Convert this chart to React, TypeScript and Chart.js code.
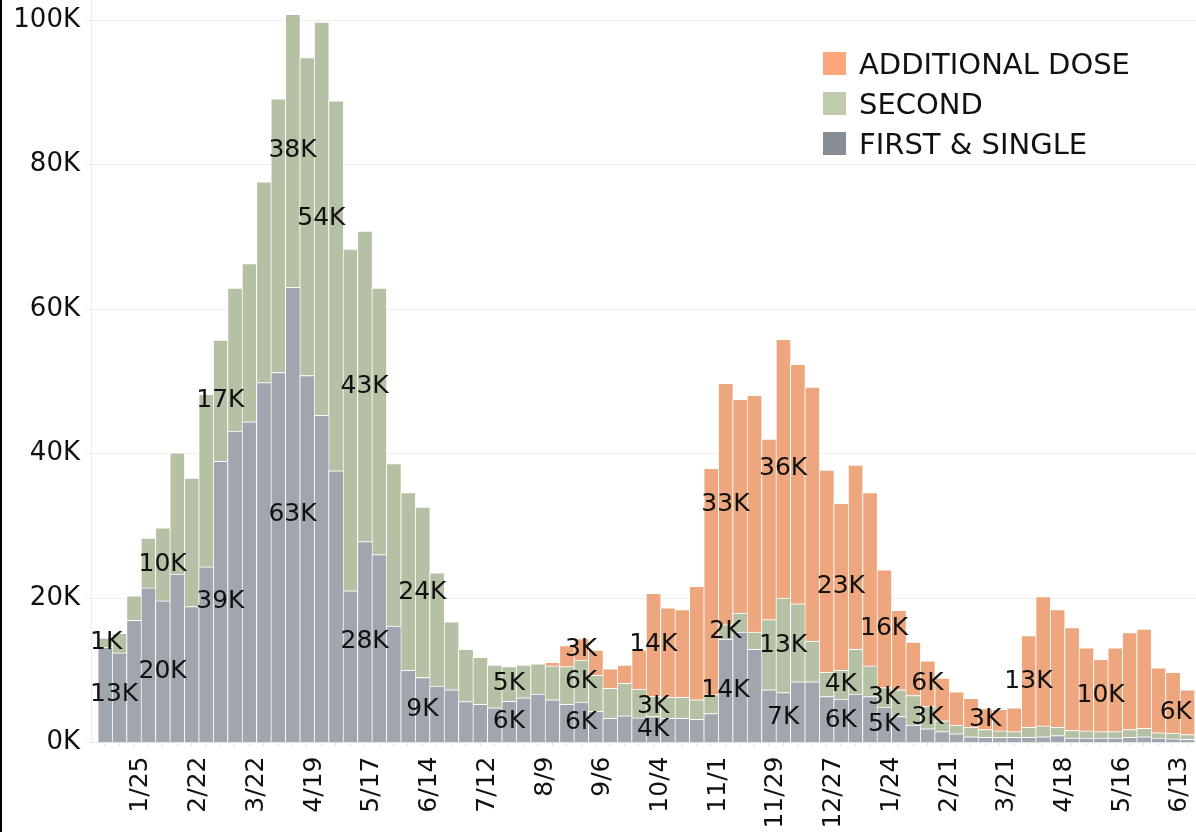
import React, { useEffect, useRef } from 'react';
import { Chart, registerables } from 'chart.js';

Chart.register(...registerables);

const FONT = "'DejaVu Sans', sans-serif";

// Weekly doses, week of 1/4/2021 (index 0) through week of 6/13/2022 (index 75)
const firstSingle = [
  13200, 12400, 16900, 21400, 19600, 23300, 18800, 24300, 38900, 43100,
  44400, 49800, 51200, 63000, 50800, 45300, 37600, 21000, 27800, 26000,
  16100, 10000, 9000, 7800, 7300, 5650, 5300, 4800, 5700, 6200,
  6700, 5900, 5300, 5600, 4300, 3350, 3700, 3400, 3600, 3350,
  3350, 3200, 4000, 14300, 15300, 12900, 7300, 6900, 8400, 8400,
  6350, 6000, 6700, 6350, 4900, 3600, 2400, 1900, 1500, 1200,
  800, 700, 700, 700, 700, 800, 950, 600, 600, 600,
  600, 700, 800, 600, 500, 450,
];

const second = [
  1300, 2700, 3400, 6900, 10100, 16800, 17800, 23900, 16800, 19800,
  21900, 27800, 37900, 37800, 44000, 54400, 51200, 47300, 43000, 36900,
  22500, 24600, 23600, 15700, 9400, 7250, 6500, 5900, 4800, 4500,
  4200, 4700, 5200, 5800, 5000, 4150, 4500, 4000, 2800, 2950,
  2900, 2700, 2600, 2000, 2600, 2400, 9700, 13100, 10800, 5600,
  3350, 4000, 6200, 4250, 2700, 3700, 4100, 3100, 1500, 1200,
  1300, 1100, 900, 800, 1400, 1500, 1150, 1100, 1000, 900,
  900, 1100, 1150, 750, 800, 650,
];

const additional = [
  0, 0, 0, 0, 0, 0, 0, 0, 0, 0,
  0, 0, 0, 0, 0, 0, 0, 0, 0, 0,
  0, 0, 0, 0, 0, 0, 0, 0, 0, 0,
  0, 500, 2900, 3000, 3500, 2700, 2500, 5400, 14250, 12350,
  12150, 15700, 31350, 33400, 29600, 32750, 25000, 35800, 33150, 35200,
  28000, 23100, 25500, 24000, 16300, 11000, 7400, 6300, 5900, 4600,
  4000, 2900, 3000, 3300, 12700, 17900, 16300, 14200, 11500, 10000,
  11600, 13400, 13750, 9000, 8400, 6200,
];

// x tick labels: every 4th week boundary, starting at boundary 3
const tickLabels = [
  '1/25', '2/22', '3/22', '4/19', '5/17', '6/14', '7/12', '8/9', '9/6', '10/4',
  '11/1', '11/29', '12/27', '1/24', '2/21', '3/21', '4/18', '5/16', '6/13',
];
const FIRST_TICK = 3;
const TICK_EVERY = 4;

const yTickValues = [0, 20000, 40000, 60000, 80000, 100000];
const Y_MAX = 102770;

// weeks whose segment carries a value label
const firstLabelWeeks = [0, 4, 8, 13, 18, 22, 28, 33, 38, 43, 47, 51, 54];
const secondLabelWeeks = [0, 4, 8, 13, 15, 18, 22, 28, 33, 38, 43, 47, 51, 54, 57];
const additionalLabelWeeks = [33, 38, 43, 47, 51, 54, 57, 61, 64, 69, 75];

const seriesNames = ['FIRST & SINGLE', 'SECOND', 'ADDITIONAL DOSE'];
const seriesValues = [firstSingle, second, additional];
const labelWeeks = [firstLabelWeeks, secondLabelWeeks, additionalLabelWeeks];
const barColors = ['#9fa6ad', '#b4c1a4', '#eda67d'];
const legendColors = ['#878d94', '#bfcbad', '#fda77a'];

const W = 1196;
const H = 832;

export default function App() {
  const canvasRef = useRef<HTMLCanvasElement>(null);

  useEffect(() => {
    const canvas = canvasRef.current;
    if (!canvas) return;

    const labelPlugin = {
      id: 'segmentLabels',
      afterDatasetsDraw(chart: any) {
        const ctx = chart.ctx as CanvasRenderingContext2D;
        const area = chart.chartArea;
        ctx.save();
        ctx.font = `25px ${FONT}`;
        ctx.fillStyle = '#111111';
        ctx.textAlign = 'center';
        ctx.textBaseline = 'middle';
        labelWeeks.forEach((weeks, d) => {
          const meta = chart.getDatasetMeta(d);
          const values = seriesValues[d];
          weeks.forEach((i) => {
            const el = meta.data[i] as any;
            if (!el) return;
            const text = Math.round(values[i] / 1000) + 'K';
            const w = ctx.measureText(text).width;
            let x = el.x;
            x = Math.min(x, area.right - 4 - w / 2);
            x = Math.max(x, area.left - 1 + w / 2);
            const y = (el.y + el.base) / 2;
            ctx.fillText(text, x, y);
          });
        });
        ctx.restore();
      },
    };

    const chart = new Chart(canvas, {
      type: 'bar',
      data: {
        datasets: seriesValues.map((vals, d) => ({
          label: seriesNames[d],
          data: vals.map((v, i) => ({ x: i + 0.5, y: v })),
          backgroundColor: barColors[d],
          borderColor: '#ffffff',
          borderWidth: { top: 1, left: 1, right: 0, bottom: 0 },
          borderSkipped: false,
          barPercentage: 1,
          categoryPercentage: 1,
        })),
      },
      options: {
        responsive: false,
        animation: false,
        devicePixelRatio: 1,
        events: [],
        layout: { padding: 0 },
        plugins: {
          legend: { display: false },
          tooltip: { enabled: false },
        },
        scales: {
          x: {
            type: 'linear',
            stacked: true,
            min: -0.464,
            max: 76.11,
            offset: false,
            afterBuildTicks: (scale: any) => {
              scale.ticks = Array.from({ length: 77 }, (_, k) => ({ value: k }));
            },
            afterFit: (scale: any) => {
              scale.height = 89.5;
              scale.paddingLeft = 0;
              scale.paddingRight = 0;
            },
            grid: {
              drawOnChartArea: false,
              drawTicks: true,
              tickLength: 4,
              color: '#e2e2e2',
            },
            border: { display: true, color: '#e4e4e4' },
            ticks: {
              autoSkip: false,
              maxRotation: 90,
              minRotation: 90,
              padding: 10,
              color: '#111111',
              font: { family: FONT, size: 25 },
              callback: (value: any) => {
                const k = Math.round(Number(value)) - FIRST_TICK;
                if (k >= 0 && k % TICK_EVERY === 0) {
                  return tickLabels[k / TICK_EVERY] ?? '';
                }
                return '';
              },
            },
          },
          y: {
            stacked: true,
            min: 0,
            max: Y_MAX,
            afterBuildTicks: (scale: any) => {
              scale.ticks = yTickValues.map((v) => ({ value: v }));
            },
            afterFit: (scale: any) => {
              scale.width = 91;
              scale.paddingTop = 0;
              scale.paddingBottom = 0;
            },
            grid: { color: '#efefef', tickLength: 6, drawTicks: true },
            border: { display: true, color: '#ececec' },
            ticks: {
              padding: 5,
              color: '#111111',
              font: { family: FONT, size: 26 },
              callback: (value: any) => Number(value) / 1000 + 'K',
            },
          },
        },
      } as any,
      plugins: [labelPlugin],
    });

    return () => {
      chart.destroy();
    };
  }, []);

  const legendOrder = [2, 1, 0];

  return (
    <div
      style={{
        position: 'fixed',
        left: 0,
        top: 0,
        width: W,
        height: H,
        background: '#ffffff',
        overflow: 'hidden',
      }}
    >
      <canvas ref={canvasRef} width={W} height={H} style={{ display: 'block', width: W, height: H }} />
      <div style={{ position: 'absolute', left: 0, top: 0, width: 2, height: H, background: '#000000' }} />
      <div
        style={{
          position: 'absolute',
          left: 823,
          top: 43.5,
          fontFamily: FONT,
          fontSize: 29,
          color: '#111111',
          lineHeight: '40px',
        }}
      >
        {legendOrder.map((d) => (
          <div key={d} style={{ display: 'flex', alignItems: 'center', height: 40 }}>
            <span
              style={{
                display: 'inline-block',
                width: 23,
                height: 23,
                background: legendColors[d],
                marginRight: 13,
              }}
            />
            <span style={{ whiteSpace: 'nowrap' }}>{seriesNames[d]}</span>
          </div>
        ))}
      </div>
    </div>
  );
}
